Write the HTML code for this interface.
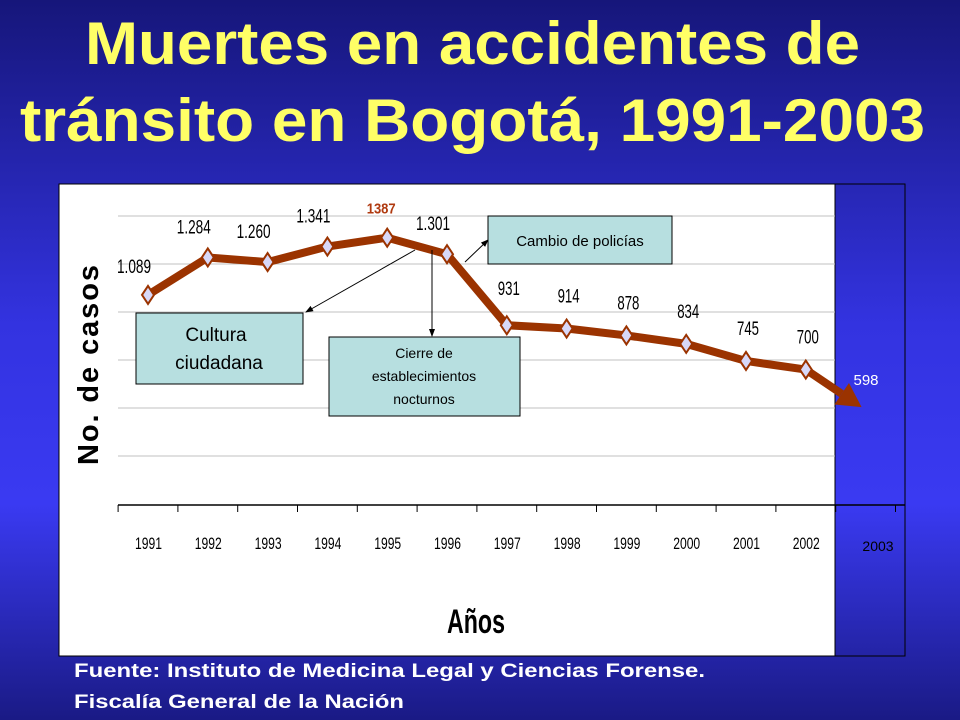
<!DOCTYPE html>
<html><head><meta charset="utf-8"><style>
html,body{margin:0;padding:0;width:960px;height:720px;overflow:hidden}
svg{display:block}
text{font-family:"Liberation Sans",sans-serif}
</style></head><body>
<svg id="s" width="960" height="720" viewBox="0 0 960 720">
<defs>
<linearGradient id="bg" x1="0" y1="0" x2="0" y2="1">
<stop offset="0" stop-color="#16167a"/><stop offset="0.45" stop-color="#3333e0"/><stop offset="0.7" stop-color="#3a3af2"/><stop offset="1" stop-color="#1a1a85"/>
</linearGradient>
<marker id="ah" markerWidth="8" markerHeight="8" refX="7" refY="4" orient="auto"><path d="M0,1 L8,4 L0,7 z" fill="#000"/></marker>
</defs>
<rect width="960" height="720" fill="url(#bg)"/>
<text x="85" y="64" font-size="60" font-weight="bold" fill="#ffff66" textLength="775" lengthAdjust="spacingAndGlyphs">Muertes en accidentes de</text>
<text x="20" y="141" font-size="60" font-weight="bold" fill="#ffff66" textLength="905" lengthAdjust="spacingAndGlyphs">tránsito en Bogotá, 1991-2003</text>
<rect x="59" y="184" width="776" height="472" fill="#fff" stroke="#000" stroke-width="1"/>
<rect x="835" y="184" width="70" height="472" fill="none" stroke="#000" stroke-width="1"/>
<g id="grid"></g>
<g id="axis"></g>
<text transform="translate(98,363) rotate(-90)" text-anchor="middle" font-size="29" font-weight="bold" letter-spacing="4" textLength="204" lengthAdjust="spacing" fill="#000">No. de casos</text>
<text x="447" y="633" font-size="34" font-weight="bold" fill="#000" textLength="58" lengthAdjust="spacingAndGlyphs">Años</text>
<g id="series"></g>
<line x1="415" y1="250" x2="306" y2="312" stroke="#000" stroke-width="1" marker-end="url(#ah)"/>
<line x1="432" y1="250" x2="432" y2="336" stroke="#000" stroke-width="1" marker-end="url(#ah)"/>
<line x1="465" y1="262" x2="488" y2="240" stroke="#000" stroke-width="1" marker-end="url(#ah)"/>
<g>
<rect x="136" y="313" width="167" height="71" fill="#b7dfe0" stroke="#000"/>
<text x="216" y="341" text-anchor="middle" font-size="19" fill="#000">Cultura</text>
<text x="219" y="369" text-anchor="middle" font-size="19" fill="#000">ciudadana</text>
</g>
<g>
<rect x="329" y="337" width="191" height="79" fill="#b7dfe0" stroke="#000"/>
<text x="424" y="358" text-anchor="middle" font-size="14" fill="#000">Cierre de</text>
<text x="424" y="381" text-anchor="middle" font-size="14" fill="#000">establecimientos</text>
<text x="424" y="404" text-anchor="middle" font-size="14" fill="#000">nocturnos</text>
</g>
<g>
<rect x="488" y="216" width="184" height="48" fill="#b7dfe0" stroke="#000"/>
<text x="580" y="246" text-anchor="middle" font-size="15" fill="#000">Cambio de policías</text>
</g>
<text x="74" y="677" font-size="19" font-weight="bold" fill="#fff" textLength="631" lengthAdjust="spacingAndGlyphs">Fuente: Instituto de Medicina Legal y Ciencias Forense.</text>
<text x="74" y="708" font-size="19" font-weight="bold" fill="#fff" textLength="330" lengthAdjust="spacingAndGlyphs">Fiscalía General de la Nación</text>
</svg>
<script>
const years=[1991,1992,1993,1994,1995,1996,1997,1998,1999,2000,2001,2002];
const deaths=[1089,1284,1260,1341,1387,1301,931,914,878,834,745,700];
const valueLabels=["1.089","1.284","1.260","1.341","1387","1.301","931","914","878","834","745","700"];
const projYear=2003;
const projValue=598;
const gridTicks=[250,500,750,1000,1250,1500];
const NS="http://www.w3.org/2000/svg";
const x=y=>148+(y-1991)*59.8;
const yv=v=>504-v*(288/1500);
function mk(t,a,p){const e=document.createElementNS(NS,t);for(const k in a)e.setAttribute(k,a[k]);p.appendChild(e);return e;}
const grid=document.getElementById('grid'),axis=document.getElementById('axis'),ser=document.getElementById('series');
gridTicks.forEach(v=>{const l=mk('line',{x1:118,x2:835,y1:yv(v),y2:yv(v),stroke:'#c0c0c0','stroke-width':1},grid);

});
mk('line',{x1:118,x2:905,y1:505,y2:505,stroke:'#000','stroke-width':1.5},axis);
for(let i=0;i<=years.length+1;i++){const tx=x(1991)-29.9+i*59.8;mk('line',{x1:tx,x2:tx,y1:505,y2:512,stroke:'#000'},axis);}
years.forEach(y=>{const t=mk('text',{x:x(y)-13,y:549,'font-size':17,fill:'#000',textLength:27,lengthAdjust:'spacingAndGlyphs'},axis);t.textContent=y;

});
const t3=mk('text',{x:878,y:551,'text-anchor':'middle','font-size':14,fill:'#000'},axis);t3.textContent=projYear;


const lx=x(2002),ly=yv(deaths[11]),px=x(projYear)-4,py=yv(projValue)+18;
const ang=Math.atan2(py-ly,px-lx);
const bx=px-24*Math.cos(ang),by=py-24*Math.sin(ang);
const pl=mk('line',{x1:lx,y1:ly,x2:bx,y2:by,stroke:'#9b3300','stroke-width':8},ser);


const nx=-Math.sin(ang),ny=Math.cos(ang);
const ph=mk('polygon',{points:`${px},${py} ${bx+nx*13},${by+ny*13} ${bx-nx*13},${by-ny*13}`,fill:'#9b3300'},ser);


const pv=mk('text',{x:866,y:yv(projValue)-4,'text-anchor':'middle','font-size':15,fill:'#fff'},ser);pv.textContent=projValue;


const line=mk('polyline',{points:years.map((y,i)=>x(y)+','+yv(deaths[i])).join(' '),fill:'none',stroke:'#9b3300','stroke-width':8,'stroke-linejoin':'round'},ser);


years.forEach((y,i)=>{const cx=x(y),cy=yv(deaths[i]);
const d=mk('polygon',{points:`${cx},${cy-9} ${cx+6},${cy} ${cx},${cy+9} ${cx-6},${cy}`,fill:'#d8d8f8',stroke:'#9b3300','stroke-width':2},ser);


const hi=i===4;
const lab=valueLabels[i];
const w=hi?29:(lab.length>3?34:22);
const t=mk('text',{x:cx-(i<6?14:-2)+(hi?8:0)-w/2,y:cy-(i===0?22:i<6?24:i===6?30:26),'font-size':hi?15:19,'font-weight':hi?'bold':'normal',fill:hi?'#b03a10':'#000',textLength:w,lengthAdjust:'spacingAndGlyphs'},ser);
t.textContent=lab;

});
</script>
</body></html>
